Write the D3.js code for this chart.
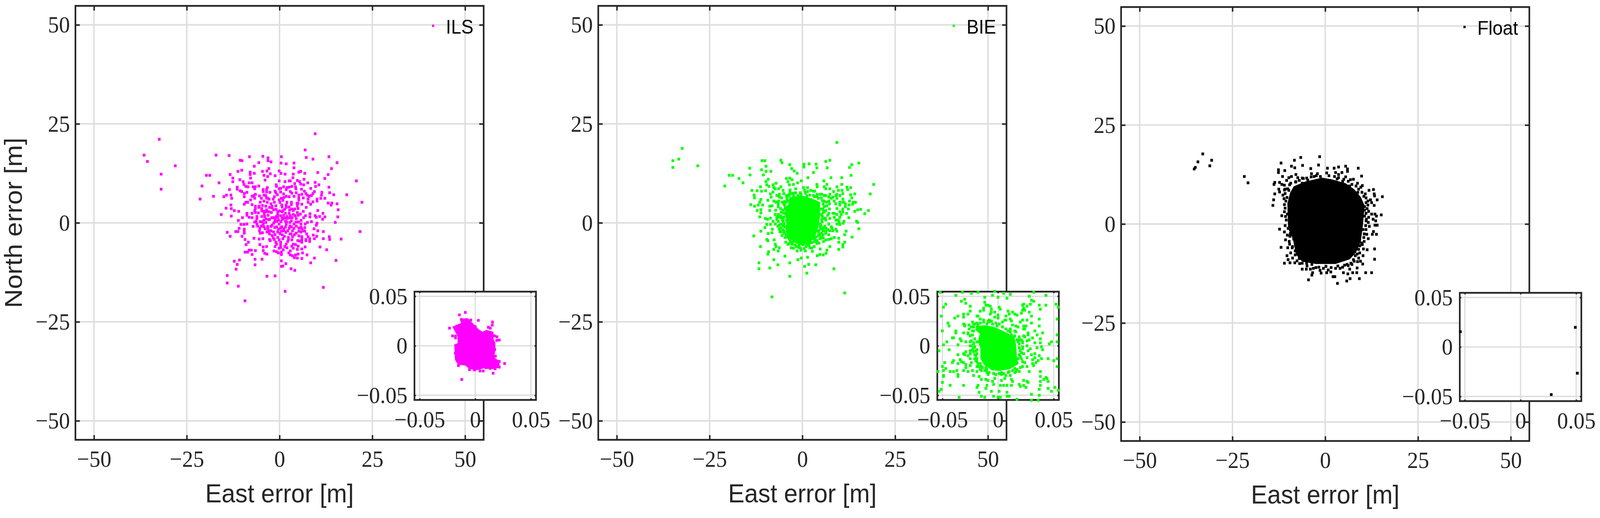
<!DOCTYPE html>
<html>
<head>
<meta charset="utf-8">
<script src="https://d3js.org/d3.v7.min.js"></script>
<style>
  html, body { margin: 0; padding: 0; background: #fff; overflow: hidden; }
  svg { display: block; width: 100vw; height: 100vh; }
</style>
</head>
<body>
<svg id="drawing_region" viewBox="0 0 4370 1325" preserveAspectRatio="none"></svg>
<script>
// Tick values and labels
const mainTicks = [-50, -25, 0, 25, 50];
const mainTickLabels = ["\u221250", "\u221225", "0", "25", "50"];
const insetTicks = [-0.05, 0, 0.05];
const insetTickLabels = ["\u22120.05", "0", "0.05"];
const seriesNames = ["ILS", "BIE", "Float"];
const seriesColors = ["#ff00ff", "#00ff00", "#000000"];

// Main plots: east, north error [m].
const ilsPoints = [[-32.4,21.1],[-36.5,17.1],[-35.6,15.5],[-28.1,14.4],[-31.9,12.3],[-31.9,8.5],
[9.6,22.5],[6.9,18.4],[7.2,16.5],[9,16.1],[13.3,16.7],[15.5,15.2],[14,13.7],[10.3,12.7],[13.1,12.2],[12.2,11.2],[20.7,10.6],[13.3,9],[18.1,7.1],[22.2,5.2],[13.5,7.6],[14.6,7.1],[13.1,5],[14.1,5],[13.9,4.5],[15.5,4.8],[15.8,3.3],[15.7,1.5],[15,.1],[21.7,-2.2],[16.6,-4.1],[13.5,-4.2],[13.4,-3.5],[11.8,-2.2],[11.8,-4],[10.3,-2],[9.3,-1.5],[9.1,-3.1],[10,-3.4],[9.4,-4],[10.9,-6.1],[12.7,-6.8],[9.4,-8.9],[8.4,-10.1],[15.2,-9.5],[11.8,-16.3],[1.5,-17.3],[-9.3,-19.7],[-11.1,-16],[-14.1,-15.2],[-14.1,-13.3],[-3.4,-13.5],[-1.2,-13.4],[-11.7,-11.7],[-11.4,-10.5],[-12.2,-9.7],[-10.8,-9.4],[-6.6,-10.6],[-6.6,-9.2],[-4.7,-9.2],[.5,-9.6],[1.7,-10.3],[.9,-10.9],[.5,-11],[3.1,-11.6],[4.1,-12],[6,-9],[7.4,-8.1],[4.8,-8.9],[4,-8.8],
[-17.1,17.1],[-13.6,17],[-8.1,16.7],[-4.5,16.8],[-3.1,16.4],[-3.1,15.7],[-2.3,15.4],[-10.6,15.8],[-10.1,15.7],[-5.6,15.2],[-6.8,14.3],[.5,16.7],[.4,15.1],[1.8,14.9],[3.9,15.1],[3.9,13.9],[-11.2,13],[-10.2,13.3],[-19.7,12],[-18.8,12],[-13.3,12.2],[-12.6,11.3],[-12.6,10.4],[-16.3,10.1],[-20.9,9.3],[-21.4,6],[-17.8,6.7],[-13.5,8.4],[-11.4,9],[-11.4,8.5],[-10.6,8.1],[-10.2,7.9],[-15,6.6],[-14.3,7],[-13.1,7],[-12.9,6.2],[-13.1,4.5],[-13,3.6],[-14.4,3.7],[-12.2,3.1],[-11,2.9],[-15.7,2.1],[-13,1.7],[-10,1.3],[-11.1,.6],[-10.4,-.4],[-9.6,-.4],[-8.8,-.3],[-7.1,-.9],[-14.1,-2.4],[-13.3,-3.4],[-10.9,-1.4],[-11.2,-2.2],[-11.8,-2.2],[-9.5,-1.6],[-9.5,-2.1],[-9.5,-2.6],[-10.1,-3.4],[-9.3,-4.2],[-8.4,-4.9],[-9,-5.5],[-6.9,-3.9],[-5.5,-4.1],[-4.5,-4],[-5.3,-5.5],[-4.4,-6.1],[-3.5,-6],[-1.2,-6],[-6.5,-7],[-7.6,-6.9],[-8.2,-6.9],[-9.3,-7.4],[-8.6,-7.4],[-7.4,-8],[-4.4,-7],[-4,-7.7],[-3.4,-7.9],[-1.5,-7.1],[-.8,-7.3],[-.3,-7.6],[.5,-7.4],[.5,-8],
[-4.6,13],[-3.4,13.1],[-2.9,13.7],[-2.5,12.4],[-4.2,12],[-3.2,11.7],[-1.2,11.9],[-.1,13.1],[.4,12.5],[1.5,12.3],[3.7,12.3],[3.6,11.4],[5.2,12.8],[5.7,13],[6.8,12.5],[-7.9,12.8],[-7.9,12.2],[-6.8,12.5],[-7.8,11.3],
[-10.7,10.9],[-9.8,10.4],[-9.6,9.7],[-9.1,9.2],[-8.5,9.1],[-8.2,10.1],[-7.4,10.1],[-3.9,10.8],[-.1,10.6],[1.5,10.4],[2.6,10.6],[2.9,10.6],[4.8,10.7],[5.4,10.4],[5.7,9.8],[6.6,11],[7.6,10.1],[9.6,10.2],[9.7,9.2],[10.6,9.6],[4.1,9.9],[6.5,9.6],[-.9,9.6],[-5.6,9.3],[-6.5,9.1],[-7.1,9.1],
[-6.7,8.6],[-4.4,8.4],[-3.3,8.9],[-3.5,8.4],[-.8,9.2],[1.1,9.1],[2,8.9],[2.6,9],[3.3,9.2],[4.3,9.1],[4.4,8.6],[5.9,8.5],[8.4,8.7],[-1.2,8],[-.1,8.6],[.3,8.7],[1.8,8.4],[2.9,7.9],[6.7,8],[9.4,7.9],[11.4,7.7],[-8.8,7.7],[-9.5,7.4],[-2.6,7.7],[-4.4,7.9],[-3.5,7.8],
[-6.5,7.2],[-6.9,6.9],[-7.4,6.7],[-6.7,6.2],[-9.5,6.6],[-4.2,7],[-3.7,6.9],[-3.5,6.3],[-1.4,6.6],[-.6,7.1],[1.1,7.3],[2.6,6.6],[3.9,6.7],[5.2,7],[6,7.2],[7.1,7.4],[7.5,7],[9,7.4],[8.6,6.9],[11.3,7],[5.2,6.3],[6.4,6.3],[7.9,6.7],[7.7,6],[10.1,6],[11.1,6.2],[12.2,6.2],[-3.2,6.2],[5.2,5.8],
[-8.6,5.2],[-9.1,5.2],[-7.8,5.8],[-9.5,4.7],[-7.4,4.6],[-5.2,5.2],[-4.2,5.5],[-3.3,5.2],[-2.3,4.8],[-1.4,5.2],[-.1,5.8],[.5,6.2],[.9,5.7],[.1,5.2],[2,5.2],[4.7,4.9],[6,4.7],[7.7,5.2],[9,5.3],[8.4,4.7],[10.1,5.5],[.6,4.5],[1.8,4.5],[-6.5,4.2],[-3.7,4.2],[-2,4.2],[-1,4.3],[7.2,3.9],
[-6.5,3.6],[-5.6,3.9],[-6.7,3.1],[-4.8,3.6],[-4.8,3],[-3.5,3.3],[-2,3.8],[-1.6,3.3],[.7,4],[1.8,3.9],[2.6,4],[3.3,3.5],[4.1,3.5],[5,3.6],[4.8,4.3],[6.4,2.9],[10.3,3.1],[-.5,2.8],[.7,2.8],[1.6,2.4],[2.6,2.4],[4.8,2.6],[-3.5,2.8],
[-8.8,2.4],[-8.8,1.9],[-6.5,2.6],[-7.4,2.4],[-8.2,1.4],[-7.4,1.3],[-6.1,1.6],[-6.1,1.1],[-4.8,1.6],[-4,1.6],[-3.1,1.9],[-2.2,2.6],[-1.6,1.3],[-.5,2.1],[-.5,1.4],[1.1,1.9],[2,1.6],[2.9,1.8],[3.7,2.1],[5,1.9],[4.5,1.1],[7,1.8],[8.2,2.3],[8.2,1.5],[9.6,1.8],[9.9,1.4],[10.8,1.6],[11.7,2.4],[12.2,1.5],[11.6,.9],[-2.9,.8],[-1.2,.9],[2.8,1.3],
[-6.7,.2],[-6.1,-.3],[-5.2,.3],[-4.2,.7],[-3.7,.1],[-1.6,-.1],[-.3,.7],[-.1,-.3],[1.6,.4],[2.8,.1],[5.8,.6],[5.8,-.3],[6.9,-.3],[7.5,.1],[8.6,.3],[10.1,-.1],[9.9,-.6],[3.9,-.3],[1.8,-.4],[-2,-.6],[2.8,-.8],
[-5.3,-1.3],[-5.4,-2],[-4.6,-2.5],[-5.2,-2.6],[-4.2,-1],[-3.9,-1.5],[-3.1,-1.5],[-2.3,-2],[-1.6,-2.3],[-.8,-1],[.3,-1.3],[1.1,-1.5],[.5,-2.1],[1.2,-2],[2.6,-1.4],[2.2,-2],[3.5,-2],[4.5,-.8],[5.2,-1.3],[6,-1.5],[6.5,-2],[5.2,-2.1],[4.5,-2.6],
[-2.7,-2.8],[-2,-3.2],[-1.2,-3],[-.5,-3.7],[.7,-3],[2.8,-2.8],[2.4,-3.7],[3.5,-3.5],[5.2,-3.3],[6,-3.5],[7.3,-2.8],[7.7,-3.5],[8.1,-4],[7.1,-4.2],[6,-4.2],[2.4,-4.2],[-2.7,-4.2],[-1.4,-4.2],
[-2.5,-4.5],[-1,-4.9],[-.8,-5.4],[.3,-4.9],[.3,-5.5],[2.2,-4.7],[1.8,-5.4],[1.4,-6],[3.7,-5.4],[3.3,-5.9],[4.3,-5.5],[5,-5.9],[6,-4.9],[7.1,-4.5],[8.1,-4.7],[.3,-6.2],
[3.7,-6.4],[4.8,-6.7],[6,-6.6],[6.9,-6.1],[6.2,-7.6],[2.5,-7.6],[2.9,-7.1],[2.9,-8.1],[3.5,-8.3],[4.3,-8.1],[5,-7.9],
[0,3],[.9,3.1],[-.9,3.4],[2.7,3.2],[3.7,3.1],[1.4,3.4],[-2.7,3.9],[-2.9,2.8],[-4.2,2.9],[-4.1,2.2],[-2.1,1.3],[-.9,1.6],[.3,1.8],[.7,1.2],[1.4,1.2],[2.1,1.1],[3.4,1.3],[4.2,1.8],[5.6,2.2],[6.5,1.3],[-3.6,1],[-2.7,.9],[-1.3,.3],[-.7,.4],[.4,.3],[.8,.9],[1.9,.2],[3.2,.5],[4.4,.2],[5.1,.2],[-4.9,-.8],[-3.2,-.9],[-2.3,-.9],[-1.3,-1.2],[-.3,-1.6],[.6,-1],[1.6,-1.1],[3.2,-1],[3.9,-1.4],[5.8,-1.1],[6.8,-1.2],[-3.4,-2.3],[-2.9,-2.1],[-.5,-2.3],[.1,-2.7],[1.7,-2.4],[3.1,-2.8],[4,-3],[5.8,-2.3],[6.8,-2.1],[-1.7,-3.8],[-.1,-4.3],[.9,-4],[1.3,-3.4],[3.3,-4.3],[4.9,-4.5],[5.5,-4.6],[-.1,-6.4],[1,-6.8],[2,-6.3],[-4.6,.3],[-4.4,-.3],[-5.9,-.8],[-6.3,.4],[-5.7,2.5],[-5.5,4.2],[-4.6,4.4],[-4.9,6.2],[-5.4,6.8],[-2.8,6],[-1.7,6],[-1,7.6],[.3,7.8],[1.8,6.7],[3.3,7.5],[4.5,7.6],[5,5],[3.2,5.2],[3.2,4.6],[1.2,6.4]];

const biePoints = [[-32.4,18.8],[-34.9,15.7],[-33.3,16.1],[-34.9,14],[-28.2,14.4],
[9.3,20.3],[-10.9,15.7],[-10.1,15.7],[-5.8,15.8],[-5.5,15.2],[-3.4,14.7],[.4,14.8],[.4,14.1],[1.8,14.9],[3.7,14.8],[3.9,13.9],[6.3,15.5],[7.4,15.8],[6.7,13.9],[3,12.7],[13.3,14.7],[12.7,14],[15.2,15.1],[13.1,12],[10.6,11.4],[7.7,11.4],[1.5,11.4],[5.8,10.6],[-14.2,13.8],[-9.8,14.3],[-11,13.4],[-9.8,13],[-8.5,13],[-14.1,12.1],[-10.5,12.1],[-19.7,12],[-18.8,12],[-17.1,11.2],[-16,10.1],[-20.9,9.3],[-2.9,13.7],[-2.2,13.1],[-1.4,12.5],[19.2,9.7],[18.3,7.3],[10.6,9.7],[9.3,9.1],[12,9],[13,8.9],[12.2,8.4],[6.6,9.7],[3.9,9.7],[4,9.1],[5.9,9.1],[-.3,10.6],[-1.3,10.1],[-4.3,11.2],[-3.4,11.3],[-2.8,10.9],[-3.9,10.4],[-3.5,9.6],[-2.4,9.7],[-9.2,11],[-9.8,10.4],[-9.6,9.6],[-9,9.2],[-7.1,10],[-7.9,9.6],[-7.7,8.9],[-5.8,9.1],[-11.3,9.1],[-13.6,8.2],[-12.2,8.1],[-11,8],[-9.9,8.1],[-13,7],[-12.9,6.3],[-11.2,5.9],[-11.5,5.2],[-9.3,5.7],[-8.6,7.3],[-7.9,7.8],[-7.3,8.6],[-6.4,8.6],[-5.2,8.2],[-3.3,8.3],[-1.8,8.6],[.3,8.9],[1.4,8.9],[.6,8.2],[2.2,8.2],[3.3,8],[6.3,8.6],[7.4,8.6],[8.4,7.9],[10.7,8.2],[10.9,7.4],[14.1,7.3],[13,7.1],[13.3,6.3],[12.7,5.5],[13.7,5.2],[14.3,5.2],[12.6,4.5],[13.5,4.7],[11.2,5.2],[-13.9,4.6],[-12.9,4.2],[-11.9,4.5],[-10.7,4.5],[-8.8,4.2],[-8.2,4.3],[-12.2,3.1],[-11.2,3.3],[-11.2,2.5],[-8.8,3.1],[-11.5,1.5],[-10,1.1],[-9.4,.9],[-8.6,1.2],[-7.9,.4],[-9.6,-.4],[-8.6,-.4],[-10.1,-1.2],[-8.1,-1.6],[-11.2,-2.1],[-13.1,-3.3],[-9.2,-2.7],[-8.2,-2.5],[-9.6,-4.2],[-7.6,-4.3],[-9.3,-4.5],[-7.3,-5.4],[-7.1,-6],[-6.2,-6.3],[-7.7,-6.7],[-6.5,-7.1],[-11.3,-6],[-9.1,-7.3],[-9.3,-7.9],[-4.7,-8.4],[-7.7,-9.3],[-11.7,-10.1],[-11.7,-11.6],[-8.8,-11.4],[-6.6,-10.6],[-3.4,-10.1],[-1.2,-9.3],[-.3,-8.9],[1.4,-8.7],[1.7,-10.5],[3.6,-10.6],[.6,-11],[1.2,-12.7],[-3.4,-13.5],[8.5,-11.6],[11.4,-17.7],[-8.2,-18.7],[15.7,3.4],[14.9,3.3],[14.1,2.9],[17.8,3.1],[16.8,2.3],[11.9,2.4],[12.5,1.3],[14.6,.4],[14.9,.1],[15.2,-1.5],[11.8,-2.1],[11.4,-3],[13.4,-3.6],[9.8,-3.9],[9.8,-4.9],[11.4,-4.9],[10.9,-5.5],[10.9,-6.1],[9.8,-6.7],[7.4,-6],[6.6,-6.9],[6.4,-7.7],[5.6,-8.1],[4.7,-8],[4,-8.3],[4.8,-6.6],[4.5,-5.1],[3.2,-6],[2.7,-7.2],[.8,-7.1],[-1.4,-7.1],[-3,-6.3],[-4.5,-4.9],[-3.9,-5.4],[-2.9,-5.2],[-.9,-5.7],[1,-5],
[8.6,-3.7],[7.8,-4],[7.1,-4.2],[6.3,-4.3],[5.7,-4.7],[8,-1.3],[9.3,-2.1],[9,-1.6],[7.4,-2],[6.3,-2.1],[5.2,-2.6],[9.3,-.3],[10.1,-.4],[11.2,.4],[11,-.1],[9.7,.7],[8.6,1.4],[10.1,2.8],[10.9,3.5],[12.4,3.5],[9.3,3.6],[7.3,3.5],[8.2,2.4],[6.3,.7],[7.1,-.3],[5.6,-1.3],[5.9,2.8],[7.3,4.8],[9,4.8],[10.1,4.5],[11.6,4.8],[9.3,6.2],[10.9,6],[7.8,6.2],[6.3,6.9],[5.2,7.2],[4,7.2],[9.3,7.2],[7.4,7.2],[2.9,8],[1.4,7.9],[-2.4,6.9],[-4.1,6.5],[-6.2,7.2],[-6.9,6.9],[-8.4,6.5],[-7.7,5.5],[-6.5,4.1],[-5.4,5.2],[-4.8,4.5],[-7.3,2.1],[-6.2,1.4],[-5.4,.7],[-7.3,-.3],[-6.2,-.6],[-5,-.6],[-5.8,-2.3],[-4.3,-1.3],[-3.9,-3.7],[-3.3,-4.3],[-4.7,-3.7],[4,-2],[3.3,-4],[4.8,-4],[4.8,-.3],[4,-.3],
[-6.5,2.1],[-5.8,1.8],[-6.9,1.4],[-5,2.4],[-4.3,2.8],[-5,1.4],[-4.3,.7],[-6.5,.4],[-5.8,-.3],[-4.7,-1],[-5.8,-1.3],[-5,-2],[-3.9,-2.6],[-4.3,5.2],[-5,4.8],[-3.9,4.1],[-4.7,3.5],[-3.5,6.9],[-2.4,7.5],[-1.2,6.9],[-4.3,6.9],[-6.2,6.5],[-6.4,5.5],[-7.1,5.2],[-6.5,4.8],
[4.8,7.2],[5.9,6.9],[7.1,6.5],[8.2,6.5],[9,6.9],[5.9,5.5],[7.1,5.5],[8.6,5.5],[5.9,4.1],[5.2,3.5],[6.3,3.1],[7.1,2.4],[8.6,2.4],[9.3,2.1],[5.2,2.1],[5.6,1.1],[7.4,1.1],[9,.7],[10.1,1.4],[10.5,2.1],[4.8,-1],[5.6,-2],[6.3,-1.3],[7.8,-1],[8.2,-2],[6.3,-2.6],[7.1,-3],[4.4,-2.6],[5.2,-3.7],[5.6,-3],[3.3,-4.7],[4,-4.5],[-.5,-6.4],[1,-6],[-1.6,-6],[1.8,-5.7],[2.5,-6.4],[-2.8,-5.4],[-1.2,-5],[-3.5,-4],[-3.9,-3],[-5,-2.6],[-6.2,-1.6],[9.7,8.2],[10.1,6.9],[10.9,5.2],[10.1,5.2],[11.6,4.1],[10.9,2.8],[9.9,.1],
[-3,7.4],[-1.8,7.6],[-.6,7.6],[.8,7.5],[2,7],[3.3,6.6],[4.3,6.2],[5.4,5.6],[5.6,4.8],[5.5,3.4],[5.6,2.6],[5.4,1.6],[5.2,.8],[5.3,.2],[5,-.7],[4.9,-1.6],[4.4,-2],[4.3,-3.2],[3.7,-3.6],[3.5,-4.4],[2.6,-5],[2,-5],[1.4,-5.5],[.5,-6.5],[-.4,-6.9],[-1.1,-6.2],[-2,-5.6],[-2.6,-4.9],[-3.2,-4.8],[-3.6,-3.6],[-4.4,-3.1],[-4.8,-2.6],[-5.3,-1.7],[-5.2,-.8],[-5,-.1],[-5.2,.5],[-5.6,1.2],[-5.7,2.7],[-5.2,3.2],[-4.6,3.8],[-4.8,5.4],[-4,5.6],[-4.2,6.2],[-3.6,7.1],[-.4,7.2],[1.2,6.8],[3,6.9],[4,6.6],[5.1,6.3],[6.5,5.2],[6.6,4.3],[6.8,1.9],[6.2,1.2],[6,-.8],[6.8,-1.7],[5.6,-3.8],[4.7,-3.2],[3.9,-5.2],[2,-6.3],[-2.4,-6.4],[-3.7,-5.3],[-5.5,-3.2],[-6,-2.2],[-6.6,-.9],[-6.9,.9],[-7.2,3.2],[-5.9,3.6],[-5.6,6.3],[-5,7.4],[-3.4,7.8]];

const floatPoints = [[-33,17.7],[-34.3,15.7],[-35,14.3],[-35.3,13.9],[-30.6,16.1],[-31.1,14.7],[-21.8,12],[-20.8,10.4],
[-1.5,17],[-6.6,16.8],[-8.3,16.1],[-11.9,15.4],[-6.1,14.8],[-1.8,14.9],[-9.1,14.6],[-8.2,14.2],[-12.6,13.7],[-12.6,13],[-10.9,13.5],[-3.9,14],[.6,14.1],[2.4,14.1],[3.6,14.4],[5.5,14.6],[6,13.9],[6,13.3],[8.9,14.1],[9.8,12.1],[-11.5,12],[-7.9,12.5],[-3.7,12.7],[-2.1,12.7],[.4,12.9],[2.8,13],[3.6,12.5],[4.5,13],[5.5,11.9],[3.6,11.7],[-9.1,12],[-9.8,11.7],[-7.4,11.7],[-5.9,11.5],[-4.7,11.1],[-3,12],[-1.3,12],[-13.6,10.5],[-13.8,10],[-12.3,10.5],[-11.7,10],[-11,9.8],[-10.4,11],[-9.3,10.3],[-7.9,10.7],[-6.2,10.3],[7.6,11.3],[8.7,10.3],[10,9.7],[9.6,9.3],[6.6,9.6],[4.7,10.8],[-12.5,8.8],[-12.3,8.1],[-13.6,7.6],[-11,8.6],[-9.8,8.5],[-11.4,7.3],[-11.1,6.4],[-13.9,6.1],[-14.1,4.7],[-11,4.9],[-10.8,4],[11.8,8.5],[13,8.7],[10.8,7.6],[13.2,7.6],[13.3,7.1],[15.4,6.9],[12.2,6.1],[14,6.1],[12.5,5.4],[13.2,4.7],[11,5.4],[10.6,4.4],[10.6,3.5],[11.7,3.2],[12.5,2.5],[13.4,2.5],[13.8,2],[15.1,2.3],[10.6,2],[11.7,1.7],[12.9,1.2],[13.6,.8],[11,.8],[14,-.3],[13.4,-.3],[11.9,-.6],[-11.7,2.1],[-10.2,2.5],[-9.5,2],[-10.5,1],[-9.1,2.7],[-10,-1.1],[-9.3,-1.1],[-12.3,-1.3],[-10.2,-2.8],[-9.5,-3.1],[-8.5,-3.8],[-10.7,-4],[-9.6,-5.1],[-11.9,-5.9],[-10.1,-6],[-8.9,-6],[-8.1,-6.8],[-10.3,-8],[-8.1,-7.8],[-10,-9],[-11,-9.9],[-9.5,-9.8],[-8.2,-9.8],[11.2,-2.6],[13,-1.9],[12.7,-2.6],[13.8,-2.6],[11.6,-3.7],[10.2,-1.4],[9.3,-2.9],[9.8,-4.8],[10,-5.2],[8.1,-5.8],[10.3,-6.3],[11.3,-6.5],[13.3,-6.3],[9.3,-7.3],[10.2,-8],[8.1,-8],[13.3,-8.9],[7.6,-9],[9.5,-9.4],[8.7,-9.5],[10.1,-10.1],[7.2,-10.2],[8.6,-11.1],[-6.2,-9.9],[-4.9,-10.6],[-3.6,-10.2],[-6.2,-11.4],[-5.1,-11.4],[-3.2,-11.2],[-1.7,-10.9],[-1.1,-12.4],[-3.4,-12.3],[-3.6,-12.9],[-4.5,-14.1],[.4,-12.3],[1.5,-12.1],[2.1,-13.3],[2.6,-13.3],[3.3,-15],[5.8,-14.4],[6.7,-13.8],[9.2,-13.8],[4.9,-12.3],[6.1,-12.6],[7.4,-12.3],[8.5,-12.3],[10.9,-12.3],[12.5,-12.3],[2.8,-11.2],[4.7,-10.9],[6.6,-11.4],[.2,-10.7],[5.9,-10.2],[-7,-8.7],[-6.2,-8.5],
[-9.6,9.9],[-10.8,8.8],[-8,10.6],[-7,11],[-6.2,11.6],[-5,11.6],[-3.8,11.9],[-2.4,12.2],[1,12.2],[2.5,12],[3.2,11.4],[5,11.3],[6.2,10.8],[7.2,10],[6.8,11.2],[8.3,9.6],[9,8.8],[8.8,8],[9.9,8],[10.4,7],[11,6.6],[11.5,5.8],[11.5,4.8],[11.3,3.9],[11,2.7],[11.1,1.2],[11.6,.4],[10.9,-.4],[11,-1.4],[10.5,-2.5],[10.4,-3.4],[10.5,-4.4],[9.3,-5.5],[9,-6.4],[8.6,-7.6],[9,-8.6],[7.8,-9.4],[6.9,-9.9],[6.2,-10.5],[5.2,-10.4],[4,-11.2],[3.4,-10.6],[1.6,-11],[.8,-11.6],[-.5,-11.2],[-1.4,-11.7],[-2.5,-11],[-4,-11.4],[-5,-9.9],[-6.9,-10],[-7.6,-9.3],[-8.8,-8.6],[-9.3,-7.3],[-8.8,-5.7],[-9.7,-4.4],[-9.4,-2.4],[-11,-2],[-10.8,-.4],[-10.7,1.9],[-11,3.1],[-10.6,5.8],[-10.3,6.7],[-10.8,7.7],[-10.1,8.9]];

// Outlines of the areas where the markers merge into a solid patch and single points can't be read.
const bieCore = [[-3.5,6.5],[-.1,6.9],[2.5,6.2],[4.8,5.2],[4.8,1.8],[4.2,-1.3],[3.3,-4],[.3,-5.9],[-2.4,-4.9],[-4.5,-2.3],[-4.3,1],[-5,2.4],[-3.9,4.1]];
const floatCore = [[-8.5,9.5],[-5.5,10.7],[-.9,11.7],[1.7,11.3],[5.5,10.3],[7.8,8.8],[9.6,6.8],[10.6,4.7],[10.2,0],[9.6,-4.4],[8.3,-7.2],[6.6,-8.9],[2.8,-10.1],[-2.5,-10.1],[-6.2,-9.5],[-7.9,-7.7],[-8.7,-3.8],[-10,-1.1],[-10.2,5.1],[-9.5,7.8]];

// Insets, values in cm
const ilsInsetCore = [[-1.3,2.73],[-.67,2.79],[-.09,2.13],[.31,1.67],[.66,1.41],[1,1.61],[1.64,1.41],[1.64,.69],[1.81,.29],[1.81,-.43],[1.7,-1.16],[2.16,-1.55],[2.21,-2.21],[1.58,-2.35],[.77,-2.28],[.08,-2.48],[-.5,-2.35],[-.96,-1.95],[-1.53,-1.95],[-1.82,-1.42],[-1.88,.03],[-1.59,.29],[-1.59,.95],[-2.05,1.94],[-1.65,2.13],[-1.3,2.27]];
const ilsInsetPoints = [[-.89,3.37],[-1.42,3.12],[.28,2.57],[-2.31,1.78],[1.55,2.4],[1.53,2.09],[1.18,1.87],[1.35,1.78],[2.16,.58],[1.95,.91],[1.72,1.01],[-2.04,1],[-1.77,.97],[-1.77,.79],[2.64,-1.79],[1.61,-2.77],[-1.21,-3.4],[-1.51,-2],[-.52,-2.41],[-.07,-2.44],[.43,-2.54],[.72,-2.54],[.98,-2.21],[1.33,-2.28],[1.79,-2.32],[-1.76,.03],[-1.79,-.74],[-1.71,-1.16],[1.81,-1.05],[2.16,-2.15],[2.16,-1.58],[-1.01,-1.84],[-1.25,2.66],[-1.01,2.6],[-.4,2.6],[0,1.94],[1.75,-.37],[1.93,.55]];

const bieInsetCore = [[-2,2],[-1.25,2.07],[-.44,1.94],[.25,1.61],[.95,1.21],[1.52,.69],[1.64,-.11],[1.7,-1.29],[1.87,-1.82],[1.06,-2.35],[.14,-2.54],[-.55,-2.48],[-1.25,-1.95],[-1.59,-1.29],[-1.59,-.24],[-1.82,.42],[-1.65,1.21],[-2.05,1.61]];
const bieInsetPoints = [[-5.2,5.4],[-3.2,5.4],[-1.8,5.4],[-.3,5.5],[.5,5.3],[1.1,5.2],[3.2,5.4],[-2.4,5.3],[-3.8,5.1],[-.5,5.1],[4.3,5.1],[0,4.9],[2.8,5],
[-1.2,4.9],[.8,4.8],[-3,4.7],[-3.3,4.5],[-2.9,4.3],[-1.2,4.4],[3,4.6],[3.2,4.5],[2.9,4.2],[5.2,4.2],
[-4.7,4.2],[-4.9,3.9],[-2.5,4],[-1.1,4.1],[-.9,4.1],[-.7,4],[.1,3.9],[.2,3.7],[2.3,4.2],[2.6,4],[2.2,4.1],[2.3,3.8],[3.7,4.1],[4.3,4.1],[5.4,3.9],[-1.3,3.8],[3.8,3.7],[-.6,3.7],
[-1.3,3.6],[-1.6,3.5],[-2.5,3.5],[-.6,3.4],[-.7,3.2],[-.3,3.4],[.9,3.5],[1.3,3.4],[1.5,3.2],[1.7,3.1],[2.1,3.3],[2.4,3.6],[2.2,3.6],[2.8,3.4],[-2.7,3.2],[-3.1,3.2],[-3.1,2.9],[-1.9,3],[-1.8,3],[3,3],[0,3.1],[.7,3],[1,3.2],[-5.1,3],[-3.9,2.8],[-3.6,3],
[0,2.8],[-.3,2.9],[.6,2.6],[1.1,2.7],[-1.6,2.7],[-1.3,2.6],[-.8,2.6],[-.6,2.5],[2,2.4],[2.2,2.6],[2.6,2.6],[3.7,2.7],[5.3,2.7],[-2.3,2.4],[1.2,2.5],[3,2.3],[-4.5,2.3],[-.8,2.4],[.4,2.4],[.7,2.6],
[-3.1,2.2],[-4.4,2],[-3,2],[-3,2.1],[-2.1,2.2],[-1.8,2.1],[-2.4,1.9],[1.3,2.1],[1.6,2],[2.3,2],[2.5,2],[3.7,2],[1.8,1.9],[.4,1.9],[2.3,1.7],[2.4,1.7],[1.1,1.7],
[-5,1.5],[-3.8,1.5],[-2.2,1.5],[1.5,1.5],[2.7,1.3],[3.3,1.5],[4,1.3],[-3.8,1.3],[-3.1,1.3],[-2.7,1.3],[1.6,1.4],[3.5,1.1],[5.3,1.1],[2.7,1.1],[2.3,1],[2.4,.9],[-4,.8],[-4.1,.8],[1.9,.9],
[-3.4,.7],[-3.3,.5],[3.1,.8],[2.8,.6],[2.6,.5],[2.2,.4],[1.9,.6],[1.8,.4],[-2.9,.4],[-2.5,.4],[-4.6,.4],[3.8,.7],[4.8,.4],[5.3,.4],[3.3,.3],[3.8,.3],[4.6,.2],[-3.6,.1],[-4.9,.1],[-2.5,0],[-2.2,.2],[-1.9,.4],[2.2,.3],
[3.9,-.1],[2.6,0],[3.5,-.2],[-2.2,-.2],[-2.4,0],[-4.4,-.4],[-5.3,-.5],[2.9,-.3],[2.7,-.5],[2.2,-.3],[2,-.5],[4,-.4],[-2.9,-.6],[-2.5,-.5],[-2.2,-.6],[-2,-.5],[2.3,-.8],[3,-.9],[3.3,-.8],[-3.1,-.8],[-3,-.9],[-2.7,-1],[-3.6,-.9],[-2.5,-.8],[-2.1,-.9],
[3.7,-1],[3.3,-1.2],[2.6,-1.2],[3.1,-1.4],[2,-1.1],[1.8,-1.3],[3.9,-1.3],[4.5,-1.3],[5.3,-1.3],[3.6,-1.5],[5,-1.5],[3.4,-1.7],[-4,-1.5],[-4.1,-1.7],[-3.4,-1.4],[-3.3,-1.6],[-3.6,-1.8],[-3.1,-1.7],[-2.5,-1.3],[-2.1,-1.3],[-1.9,-1.6],[-2.4,-1.7],[-2.5,-2],[-1.8,-1.8],[-1.6,-1.8],[-2.9,-1.9],[-4.8,-1.7],[3.1,-1.8],[3.2,-2],[2.4,-1.7],[2.6,-2.1],
[-5,-2.1],[5.3,-2.1],[-4.7,-2.3],[-4.9,-2.5],[-5.4,-2.6],[-4.3,-2.6],[-4,-2.6],[-3.7,-2.5],[-3.1,-2.5],[-2.9,-2.2],[-2.7,-2.6],[-2.3,-2.5],[-1.9,-2.6],[-1.5,-2.5],[-1.2,-2.5],[2.8,-2.6],[3.8,-2.6],[1.6,-2.6],[1.9,-2.6],[1.5,-2.7],[1,-2.6],[-3.6,-2.9],[-1.5,-2.1],[-1.1,-2.2],[-1,-2.7],[.1,-2.8],
[-4.9,-3],[-4.9,-3.1],[-2.2,-3],[-1.7,-3.1],[3.8,-3.1],[1.1,-3],[.7,-3],[.3,-2.9],[-3.6,-3.1],[-1.5,-3.4],[-1.1,-3.4],[-.9,-3.5],[-.3,-3.3],[-.5,-3.6],[4.3,-3.2],[4.1,-3.4],[4.4,-3.3],[4.5,-3.6],[3.8,-3.6],[1.2,-3.4],[1.3,-3.6],[.6,-3.3],[.3,-3.5],[-5,-3.7],[2.3,-3.5],[2.6,-3.6],[2.7,-3.7],[1.9,-3.9],[-4.3,-4],[-3.1,-4],[-.4,-3.9],[.2,-4],[.5,-4],[.8,-4],[1.2,-4],[2.3,-4],[3.8,-4],[-1.8,-4],
[-1.9,-4.2],[-1,-4],[-1.1,-4.3],[2,-4.1],[2.5,-4.2],[5.1,-4.2],[4.5,-4.3],[5.4,-4.5],[3.7,-4.4],[-5.1,-4.4],[-5.3,-4.6],[-1.7,-4.7],[-.6,-4.6],[.1,-4.6],[.8,-4.7],[4.8,-4.6],[3,-4.9],[3.7,-5],[-1.5,-5.1],[-1.2,-5.2],[-.4,-5.1],[0,-5.2],[.2,-5.2],[.8,-5.1],[1,-5.1],[-3.5,-5.2],[1.7,-5.4],[3,-5.5],[3.6,-5.5],
[-2.3,1.5],[-2.5,1],[-2.1,.7],[-2.4,.5],[-2.1,-.1],[-2,-1],[-2,-1.5],[-1.9,-2.1],[-1.6,-2.4],[-1,-2.4],[-.9,-2.9],[-.2,-2.9],[.5,-2.8],[1.5,-2.3],[2,-2.2],[2.2,-1.6],[1.9,-.9],[1.9,-.2],[1.9,.2],[1.7,.6],[1.2,1.1],[.9,1.5],[.4,1.9],[-.1,2],[-.5,2.2],[-1,2.2],[-1.6,2.3],[-2.2,1.9],
[-2.6,1.7],[-2.7,1.2],[-2.3,1.1],[-2.2,.3],[-2.3,-.4],[-1.9,-.4],[-1.9,-.8],[-1.9,-1.3],[-1.7,-2.1],[-1.4,-2.2],[-.8,-2.7],[-.4,-2.8],[.3,-2.7],[.9,-2.7],[1.3,-2.5],[1.7,-2.4],[2.2,-2.1],[2.1,-1.3],[2.1,-.7],[2.2,-.1],[2.1,.6],[1.5,1],[1.4,.9],[1.1,1.4],[.7,1.7],[.1,2.2],[-.2,2.3],[-.9,2.5],[-1.3,2.4],[-1.9,2.3],[-2.2,2.2],[-2.6,2.1]];

const floatInsetPoints = [[4.92,1.98],[-5.41,1.54],[5.1,-2.65],[2.76,-4.81]];

// Where each piece goes on the page
const panels = [
    { left: 206, top: 15, idx: 0, pts: ilsPoints, core: [], legendX: 1183, legendY: 66,
      inset: { left: 1132, top: 746, pts: ilsInsetPoints, core: ilsInsetCore } },
    { left: 1634, top: 15, idx: 1, pts: biePoints, core: bieCore, legendX: 2605, legendY: 66,
      inset: { left: 2560, top: 746, pts: bieInsetPoints, core: bieInsetCore } },
    { left: 3062, top: 18, idx: 2, pts: floatPoints, core: floatCore, legendX: 4000, legendY: 69,
      inset: { left: 3987, top: 749, pts: floatInsetPoints, core: [] } }
];

const svg = d3.select('#drawing_region');
const AXIS_COLOR = '#262626', GRID_COLOR = '#dedede';
const SERIF = '"Liberation Serif", serif', SANS = '"Liberation Sans", sans-serif';
const MARK = 7.2;

panels.forEach(p => {
    const width = 1115, height = 1110;
    const g = svg.append('g').attr('transform', `translate(${p.left},${p.top})`);
    const x = d3.scaleLinear().domain([-55, 55]).range([0, width]);
    const y = d3.scaleLinear().domain([-54.8, 54.8]).range([height, 0]);

    DrawFrame(g, x, y, width, height, mainTicks, mainTickLabels, 12, 26, 15, 4);
    DrawMarks(g, x, y, p.pts, p.core, seriesColors[p.idx]);

    // legend
    svg.append('rect')
        .attr('x', p.legendX - 3).attr('y', p.legendY - 3)
        .attr('width', 6).attr('height', 6)
        .attr('fill', seriesColors[p.idx]);
    svg.append('text')
        .attr('x', p.legendX + 35).attr('y', p.legendY + 20)
        .style('font-family', SANS).style('font-size', '50px')
        .attr('fill', '#000')
        .text(seriesNames[p.idx]);

    // axis labels
    g.append('text')
        .attr('x', width / 2).attr('y', height + 160)
        .attr('text-anchor', 'middle')
        .style('font-family', SANS).style('font-size', '67px')
        .attr('fill', AXIS_COLOR)
        .text('East error [m]');
    if (p.idx === 0) {
        g.append('text')
            .attr('transform', `translate(-146,${height / 2}) rotate(-90)`)
            .attr('text-anchor', 'middle')
            .style('font-family', SANS).style('font-size', '67px')
            .attr('fill', AXIS_COLOR)
            .text('North error [m]');
    }

    // inset, same scheme at smaller scale
    const ig = svg.append('g').attr('transform', `translate(${p.inset.left},${p.inset.top})`);
    const ix = d3.scaleLinear().domain([-0.0546, 0.0546]).range([0, 332]);
    const iy = d3.scaleLinear().domain([-0.0547, 0.0547]).range([277, 0]);
    ig.append('rect').attr('width', 332).attr('height', 277).attr('fill', '#fff');
    DrawFrame(ig, ix, iy, 332, 277, insetTicks, insetTickLabels, 4, 27, 19, 3.5);
    const cm = a => a.map(d => [d[0] / 100, d[1] / 100]);
    DrawMarks(ig, ix, iy, cm(p.inset.pts), cm(p.inset.core), seriesColors[p.idx]);
});

function DrawFrame(g, x, y, width, height, ticks, labels, tickLen, padX, padY, gridWidth) {
    // Gridlines
    g.selectAll('line.vgrid').data(ticks).enter().append('line')
        .attr('class', 'vgrid')
        .attr('x1', d => x(d)).attr('x2', d => x(d))
        .attr('y1', 0).attr('y2', height)
        .attr('stroke', GRID_COLOR).attr('stroke-width', gridWidth);
    g.selectAll('line.hgrid').data(ticks).enter().append('line')
        .attr('class', 'hgrid')
        .attr('y1', d => y(d)).attr('y2', d => y(d))
        .attr('x1', 0).attr('x2', width)
        .attr('stroke', GRID_COLOR).attr('stroke-width', gridWidth);

    const label = (d, i) => labels[i];
    const axes = [
        { gen: d3.axisBottom(x).tickFormat(label).tickPadding(padX), at: [0, height] },
        { gen: d3.axisLeft(y).tickFormat(label).tickPadding(padY), at: [0, 0] },
        { gen: d3.axisTop(x).tickFormat(''), at: [0, 0] },
        { gen: d3.axisRight(y).tickFormat(''), at: [width, 0] }
    ];
    axes.forEach(a => {
        const ag = g.append('g')
            .attr('transform', `translate(${a.at[0]},${a.at[1]})`)
            .call(a.gen.tickValues(ticks).tickSizeInner(-tickLen).tickSizeOuter(0));
        ag.select('.domain').remove();
        ag.selectAll('line').attr('stroke', AXIS_COLOR).attr('stroke-width', 4);
        ag.selectAll('text')
            .attr('fill', AXIS_COLOR)
            .style('font-family', SERIF).style('font-size', '60px');
    });

    g.append('rect')
        .attr('width', width).attr('height', height)
        .attr('fill', 'none')
        .attr('stroke', AXIS_COLOR).attr('stroke-width', 4.5);
}

function DrawMarks(g, x, y, pts, core, color) {
    if (core.length) {
        const outline = d3.line().x(d => x(d[0])).y(d => y(d[1])).curve(d3.curveLinearClosed);
        g.append('path').attr('d', outline(core)).attr('fill', color);
    }
    g.selectAll('rect.pt').data(pts).enter().append('rect')
        .attr('class', 'pt')
        .attr('x', d => x(d[0]) - MARK / 2)
        .attr('y', d => y(d[1]) - MARK / 2)
        .attr('width', MARK).attr('height', MARK)
        .attr('fill', color);
}
</script>
</body>
</html>
